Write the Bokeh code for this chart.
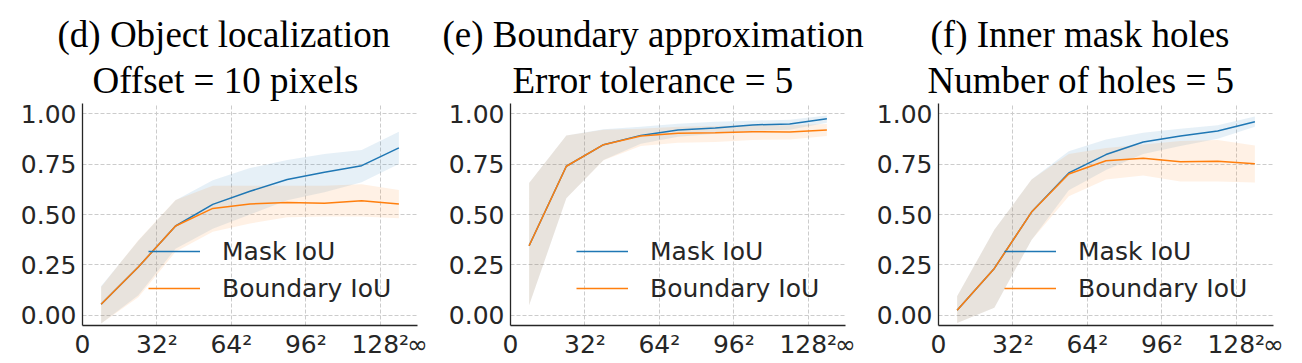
from bokeh.plotting import figure
from bokeh.layouts import row
from bokeh.models import Range1d, FixedTicker, Legend, LegendItem, Title
from bokeh.embed import file_html
from bokeh.resources import INLINE

# ---- data ----
x_centers = [8, 24, 40, 56, 72, 88, 104, 120, 136]
x_tick_values = [0, 32, 64, 96, 128, 144]
x_tick_labels = ["0", "32²", "64²", "96²", "128²", "∞"]
y_tick_values = [0, 0.25, 0.5, 0.75, 1.0]
series_names = ["Mask IoU", "Boundary IoU"]

titles_line1 = ["(d) Object localization", "(e) Boundary approximation", "(f) Inner mask holes"]
titles_line2 = ["Offset = 10 pixels", "Error tolerance = 5", "Number of holes = 5"]

d_mask = [0.055, 0.24, 0.443, 0.55, 0.615, 0.673, 0.709, 0.742, 0.83]
d_mask_lo = [-0.04, 0.10, 0.33, 0.43, 0.50, 0.57, 0.61, 0.66, 0.75]
d_mask_hi = [0.145, 0.37, 0.57, 0.67, 0.73, 0.77, 0.80, 0.82, 0.91]
d_bnd = [0.055, 0.24, 0.443, 0.53, 0.552, 0.56, 0.556, 0.568, 0.552]
d_bnd_lo = [-0.04, 0.09, 0.315, 0.415, 0.456, 0.486, 0.49, 0.49, 0.481]
d_bnd_hi = [0.141, 0.373, 0.572, 0.642, 0.642, 0.642, 0.642, 0.65, 0.622]

e_mask = [0.345, 0.739, 0.846, 0.892, 0.919, 0.929, 0.944, 0.949, 0.975]
e_mask_lo = [0.05, 0.58, 0.77, 0.85, 0.885, 0.90, 0.915, 0.92, 0.955]
e_mask_hi = [0.656, 0.892, 0.922, 0.935, 0.95, 0.96, 0.965, 0.97, 0.99]
e_bnd = [0.345, 0.739, 0.846, 0.889, 0.902, 0.905, 0.91, 0.909, 0.919]
e_bnd_lo = [0.05, 0.581, 0.769, 0.839, 0.855, 0.859, 0.869, 0.872, 0.889]
e_bnd_hi = [0.656, 0.892, 0.92, 0.925, 0.935, 0.938, 0.942, 0.942, 0.948]

f_mask = [0.025, 0.233, 0.512, 0.706, 0.797, 0.859, 0.889, 0.914, 0.96]
f_mask_lo = [-0.038, 0.038, 0.374, 0.62, 0.72, 0.80, 0.84, 0.875, 0.935]
f_mask_hi = [0.095, 0.424, 0.673, 0.814, 0.872, 0.905, 0.925, 0.942, 0.985]
f_bnd = [0.025, 0.233, 0.512, 0.701, 0.766, 0.779, 0.761, 0.764, 0.751]
f_bnd_lo = [-0.038, 0.038, 0.374, 0.59, 0.673, 0.693, 0.664, 0.664, 0.659]
f_bnd_hi = [0.095, 0.424, 0.673, 0.80, 0.83, 0.847, 0.864, 0.869, 0.842]

panels = [
    (d_mask, d_mask_lo, d_mask_hi, d_bnd, d_bnd_lo, d_bnd_hi),
    (e_mask, e_mask_lo, e_mask_hi, e_bnd, e_bnd_lo, e_bnd_hi),
    (f_mask, f_mask_lo, f_mask_hi, f_bnd, f_bnd_lo, f_bnd_hi),
]

# layout (pixels): per-panel borders and caption offsets from the frame's left edge
border_left = [82, 74, 68]
border_right = [19, 25, 14]
title1_offset = [-25, -68, -8]
title2_offset = [10, 2, -11]

BLUE = "#1f77b4"
ORANGE = "#ff7f0e"
TEXT = "#262626"
AXIS_FONT = "DejaVu Sans"
TITLE_FONT = "Liberation Serif"


def make_panel(i):
    mask, mask_lo, mask_hi, bnd, bnd_lo, bnd_hi = panels[i]
    p = figure(frame_width=335, frame_height=222,
               min_border_left=border_left[i], min_border_right=border_right[i],
               min_border_top=103, min_border_bottom=30,
               x_range=Range1d(0, 144), y_range=Range1d(-0.05, 1.05),
               output_backend="svg", toolbar_location=None,
               background_fill_color="white", border_fill_color="white")
    p.title.visible = False
    p.outline_line_color = None

    # captions: line 2 nearest the frame, line 1 above it
    p.add_layout(Title(text=titles_line2[i], align="left", offset=title2_offset[i],
                       text_font=TITLE_FONT, text_font_size="37px",
                       text_font_style="normal", text_color="black",
                       standoff=6), "above")
    p.add_layout(Title(text=titles_line1[i], align="left", offset=title1_offset[i],
                       text_font=TITLE_FONT, text_font_size="37px",
                       text_font_style="normal", text_color="black",
                       standoff=0), "above")

    p.varea(x=x_centers, y1=mask_lo, y2=mask_hi, fill_color=BLUE, fill_alpha=0.11)
    p.varea(x=x_centers, y1=bnd_lo, y2=bnd_hi, fill_color=ORANGE, fill_alpha=0.11)
    l1 = p.line(x_centers, mask, line_color=BLUE, line_width=1.5)
    l2 = p.line(x_centers, bnd, line_color=ORANGE, line_width=1.5)

    # axes
    p.xaxis.ticker = FixedTicker(ticks=x_tick_values)
    p.xaxis.major_label_overrides = {v: s for v, s in zip(x_tick_values, x_tick_labels)}
    p.yaxis.ticker = FixedTicker(ticks=y_tick_values)
    p.yaxis.major_label_overrides = {v: f"{v:.2f}" for v in y_tick_values}
    for ax in (p.xaxis, p.yaxis):
        ax.major_tick_line_color = None
        ax.minor_tick_line_color = None
        ax.major_tick_in = 0
        ax.major_tick_out = 0
        ax.axis_line_color = TEXT
        ax.axis_line_width = 1.3
        ax.major_label_text_font = AXIS_FONT
        ax.major_label_text_font_size = "25px"
        ax.major_label_text_color = TEXT
    p.xaxis.major_label_standoff = 4
    p.yaxis.major_label_standoff = 6

    p.xgrid.ticker = FixedTicker(ticks=x_tick_values)
    p.ygrid.ticker = FixedTicker(ticks=y_tick_values)
    for g in (p.xgrid, p.ygrid):
        g.grid_line_color = "#cccccc"
        g.grid_line_dash = "4 2"
        g.grid_line_width = 1

    legend = Legend(items=[LegendItem(label=series_names[0], renderers=[l1]),
                           LegendItem(label=series_names[1], renderers=[l2])],
                    location=(66, 22), orientation="vertical",
                    label_text_font=AXIS_FONT, label_text_font_size="25px",
                    label_text_color=TEXT, glyph_width=52, glyph_height=30,
                    label_height=30, spacing=7, label_standoff=22,
                    padding=0, margin=0, border_line_color=None,
                    background_fill_alpha=0)
    p.add_layout(legend)
    return p


figs = [make_panel(i) for i in range(3)]
layout = row(*figs, spacing=0)
open("out.html", "w").write(file_html(layout, INLINE))
